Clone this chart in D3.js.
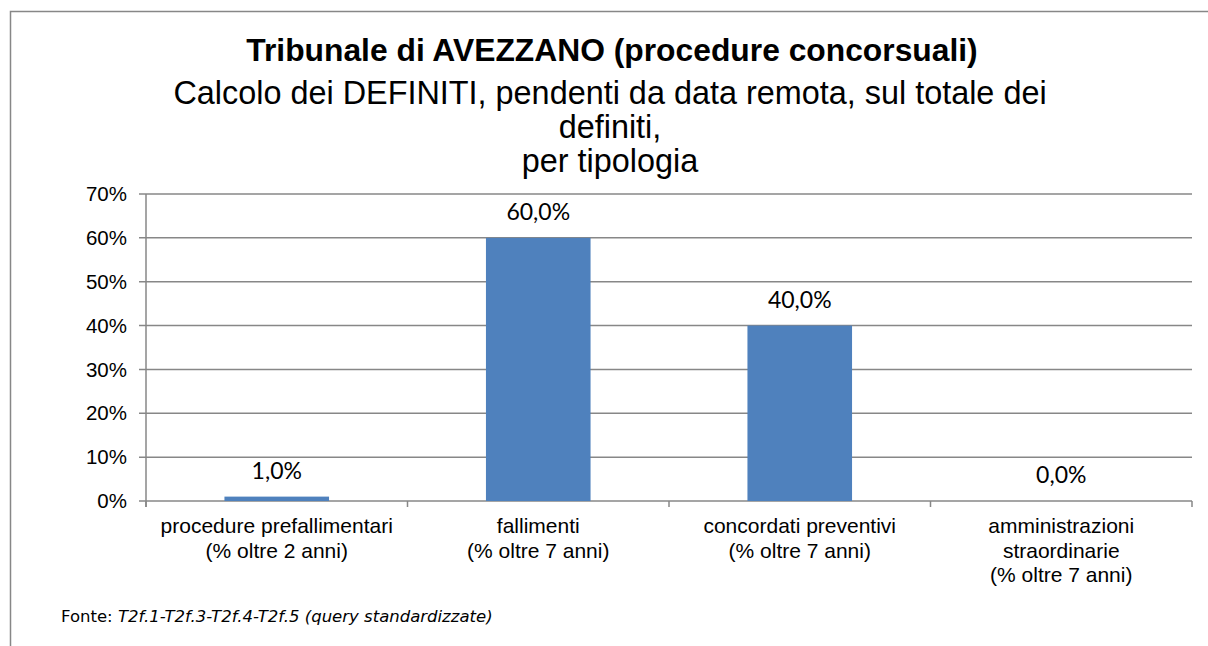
<!DOCTYPE html>
<html>
<head>
<meta charset="utf-8">
<script src="https://cdn.jsdelivr.net/npm/d3@7"></script>
<style>
  body { margin: 0; background: #fff; }
  svg { display: block; }
</style>
</head>
<body>
<svg id="chart" width="1208" height="646"></svg>
<script>
// data
const categories = [
    ["procedure prefallimentari", "(% oltre 2 anni)"],
    ["fallimenti", "(% oltre 7 anni)"],
    ["concordati preventivi", "(% oltre 7 anni)"],
    ["amministrazioni", "straordinarie", "(% oltre 7 anni)"]
];
const values = [0.01, 0.60, 0.40, 0.0];
const yTicks = [0, 0.1, 0.2, 0.3, 0.4, 0.5, 0.6, 0.7];
const titleLines = ["Calcolo dei DEFINITI, pendenti da data remota, sul totale dei", "definiti,", "per tipologia"];

const svg = d3.select("#chart");
const grey = "#878787";
const margin = { top: 194, left: 146, bottom: 145, right: 16 };
const width = 1208, height = 646;

// chart frame (only top and left edges are visible in the picture)
svg.append("path")
    .attr("d", "M10.5,646V11.5H1208")
    .attr("fill", "none")
    .attr("stroke", grey)
    .attr("stroke-width", 1.5);

// titles
const title = svg.append("text")
    .attr("text-anchor", "middle")
    .style("font-family", "'Liberation Sans', Arial, sans-serif")
    .attr("fill", "#000");
title.append("tspan")
    .attr("x", 612).attr("y", 61)
    .style("font-weight", "bold").style("font-size", "31.8px")
    .text("Tribunale di AVEZZANO (procedure concorsuali)");
titleLines.forEach((t, i) => {
    title.append("tspan")
        .attr("x", 610).attr("y", 104 + i * 34)
        .style("font-size", "32.4px")
        .text(t);
});

const x = d3.scaleBand()
    .domain(d3.range(categories.length))
    .range([margin.left, width - margin.right])
    .paddingInner(0.6)
    .paddingOuter(0.3);

const y = d3.scaleLinear()
    .domain([0, 0.7])
    .range([height - margin.bottom, margin.top]);

// gridlines
svg.append("g")
    .selectAll("line")
    .data(yTicks)
    .join("line")
    .attr("x1", margin.left - 7)
    .attr("x2", width - margin.right)
    .attr("y1", d => y(d))
    .attr("y2", d => y(d))
    .attr("stroke", grey)
    .attr("stroke-width", 1.5);

// y axis labels
svg.append("g")
    .selectAll("text")
    .data(yTicks)
    .join("text")
    .attr("x", margin.left - 19)
    .attr("y", d => y(d))
    .attr("dy", "0.35em")
    .attr("text-anchor", "end")
    .style("font-family", "'Liberation Sans', Arial, sans-serif")
    .style("font-size", "20.5px")
    .text(d3.format(".0%"));

// y axis line
svg.append("line")
    .attr("x1", margin.left).attr("x2", margin.left)
    .attr("y1", y(0.7)).attr("y2", y(0) + 6)
    .attr("stroke", grey).attr("stroke-width", 1.5);

// category boundary ticks
const step = x.step();
svg.append("g")
    .selectAll("line")
    .data(d3.range(categories.length + 1))
    .join("line")
    .attr("x1", i => margin.left + i * step)
    .attr("x2", i => margin.left + i * step)
    .attr("y1", y(0))
    .attr("y2", y(0) + 6)
    .attr("stroke", grey)
    .attr("stroke-width", 1.5);

// bars
svg.append("g")
    .selectAll("rect")
    .data(values)
    .join("rect")
    .attr("x", (d, i) => x(i))
    .attr("width", x.bandwidth())
    .attr("y", d => y(d))
    .attr("height", d => y(0) - y(d))
    .attr("fill", "#4F81BD");

// data labels
const fmt = d => d3.format(".1%")(d).replace(".", ",");
svg.append("g")
    .selectAll("text")
    .data(values)
    .join("text")
    .attr("x", (d, i) => x(i) + x.bandwidth() / 2)
    .attr("y", d => y(d) - 18)
    .attr("text-anchor", "middle")
    .style("font-family", "Lato, 'Open Sans', sans-serif")
    .style("font-size", "23px")
    .text(fmt);

// category labels
svg.append("g")
    .selectAll("text")
    .data(categories)
    .join("text")
    .attr("text-anchor", "middle")
    .style("font-family", "'Liberation Sans', Arial, sans-serif")
    .style("font-size", "21px")
    .each(function (lines, i) {
        const t = d3.select(this);
        lines.forEach((line, j) => {
            t.append("tspan")
                .attr("x", x(i) + x.bandwidth() / 2)
                .attr("y", 533 + j * 24.5)
                .text(line);
        });
    });

// source note
const note = svg.append("text")
    .attr("x", 61)
    .attr("y", 622)
    .style("font-family", "'DejaVu Sans', Verdana, sans-serif")
    .style("font-size", "16.5px")
    .attr("fill", "#000");
note.append("tspan").text("Fonte: ");
note.append("tspan").style("font-style", "italic").text("T2f.1-T2f.3-T2f.4-T2f.5 (query standardizzate)");
</script>
</body>
</html>
